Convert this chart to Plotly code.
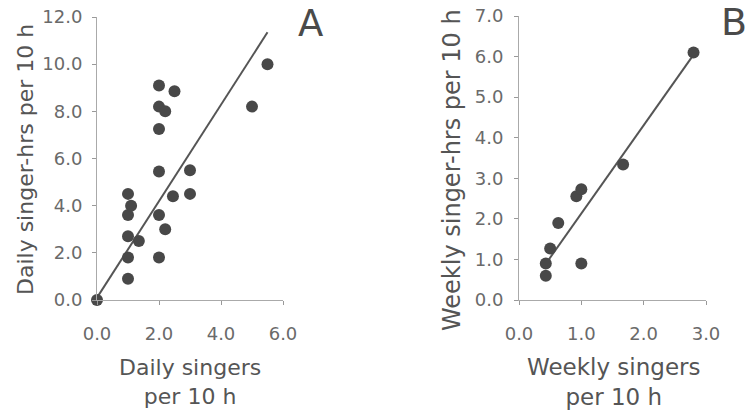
import plotly.graph_objects as go

# Panel A data
a_x = [0.0, 1.0, 1.0, 1.0, 1.35, 1.0, 1.1, 1.0, 2.0, 2.2, 2.0, 2.45, 3.0, 2.0, 3.0, 2.0, 2.0, 2.2, 2.0, 2.5, 5.0, 5.5]
a_y = [0.0, 0.9, 1.8, 2.7, 2.5, 3.6, 4.0, 4.5, 1.8, 3.0, 3.6, 4.4, 4.5, 5.45, 5.5, 7.25, 8.2, 8.0, 9.1, 8.85, 8.2, 10.0]
a_fit_x = [0.0, 5.5]
a_fit_y = [0.1, 11.35]

# Panel B data
b_x = [0.43, 0.43, 0.5, 0.63, 0.92, 1.0, 1.0, 1.67, 2.8]
b_y = [0.6, 0.9, 1.27, 1.9, 2.56, 2.73, 0.9, 3.34, 6.1]
b_fit_x = [0.47, 2.77]
b_fit_y = [0.98, 5.98]

a_xticks = [0, 2, 4, 6]
a_yticks = [0, 2, 4, 6, 8, 10, 12]
b_xticks = [0, 1, 2, 3]
b_yticks = [0, 1, 2, 3, 4, 5, 6, 7]

W, H = 751, 412


def px(x):
    return x / W


def py(y):
    return (H - y) / H


FAM = "DejaVu Sans, Arial"
mk = dict(color="#484848", size=12)
ln = dict(color="#555555", width=2)

fig = go.Figure()
fig.add_trace(go.Scatter(x=a_fit_x, y=a_fit_y, mode="lines", line=ln, xaxis="x", yaxis="y", cliponaxis=False))
fig.add_trace(go.Scatter(x=a_x, y=a_y, mode="markers", marker=mk, xaxis="x", yaxis="y", cliponaxis=False))
fig.add_trace(go.Scatter(x=b_fit_x, y=b_fit_y, mode="lines", line=ln, xaxis="x2", yaxis="y2", cliponaxis=False))
fig.add_trace(go.Scatter(x=b_x, y=b_y, mode="markers", marker=mk, xaxis="x2", yaxis="y2", cliponaxis=False))

tickfont = dict(family=FAM, size=18, color="#6a6a6a")
axcommon = dict(showgrid=False, zeroline=False, showline=True, linecolor="#aaaaaa", linewidth=1,
                ticks="outside", ticklen=4, tickcolor="#999999", tickfont=tickfont, tickformat=".1f",
                automargin=False, ticklabeloverflow="allow")

fig.update_layout(
    width=W, height=H, margin=dict(l=0, r=0, t=0, b=0, autoexpand=False),
    paper_bgcolor="white", plot_bgcolor="white", showlegend=False, hovermode=False,
    xaxis=dict(domain=[px(97), px(283)], range=[0, 6], tickvals=a_xticks, anchor="y",
               ticklabelstandoff=13, **axcommon),
    yaxis=dict(domain=[py(300), py(17)], range=[0, 12], tickvals=a_yticks, anchor="x",
               ticklabelstandoff=6, **axcommon),
    xaxis2=dict(domain=[px(519), px(706)], range=[0, 3], tickvals=b_xticks, anchor="y2",
                ticklabelstandoff=13, **axcommon),
    yaxis2=dict(domain=[py(300), py(16)], range=[0, 7], tickvals=b_yticks, anchor="x2",
                ticklabelstandoff=7, **axcommon),
)

tcol = "#555555"
ann = [
    dict(text="Daily singer-hrs per 10 h", x=px(25), y=py(160), textangle=-90,
         font=dict(family=FAM, size=22, color=tcol)),
    dict(text="Weekly singer-hrs per 10 h", x=px(452), y=py(170), textangle=-90,
         font=dict(family=FAM, size=24, color=tcol)),
    dict(text="Daily singers<br>per 10 h", x=px(190), y=py(382),
         font=dict(family=FAM, size=22, color=tcol)),
    dict(text="Weekly singers<br>per 10 h", x=px(613), y=py(382),
         font=dict(family=FAM, size=23, color=tcol)),
    dict(text="A", x=px(310), y=py(24), font=dict(family=FAM, size=37, color="#4a4a4a")),
    dict(text="B", x=px(734), y=py(22), font=dict(family=FAM, size=38, color="#4a4a4a")),
]
for a in ann:
    fig.add_annotation(xref="paper", yref="paper", showarrow=False, xanchor="center", yanchor="middle", **a)

fig.write_html("out.html", config={"displayModeBar": False},
               post_script="document.body.style.margin='0';")
